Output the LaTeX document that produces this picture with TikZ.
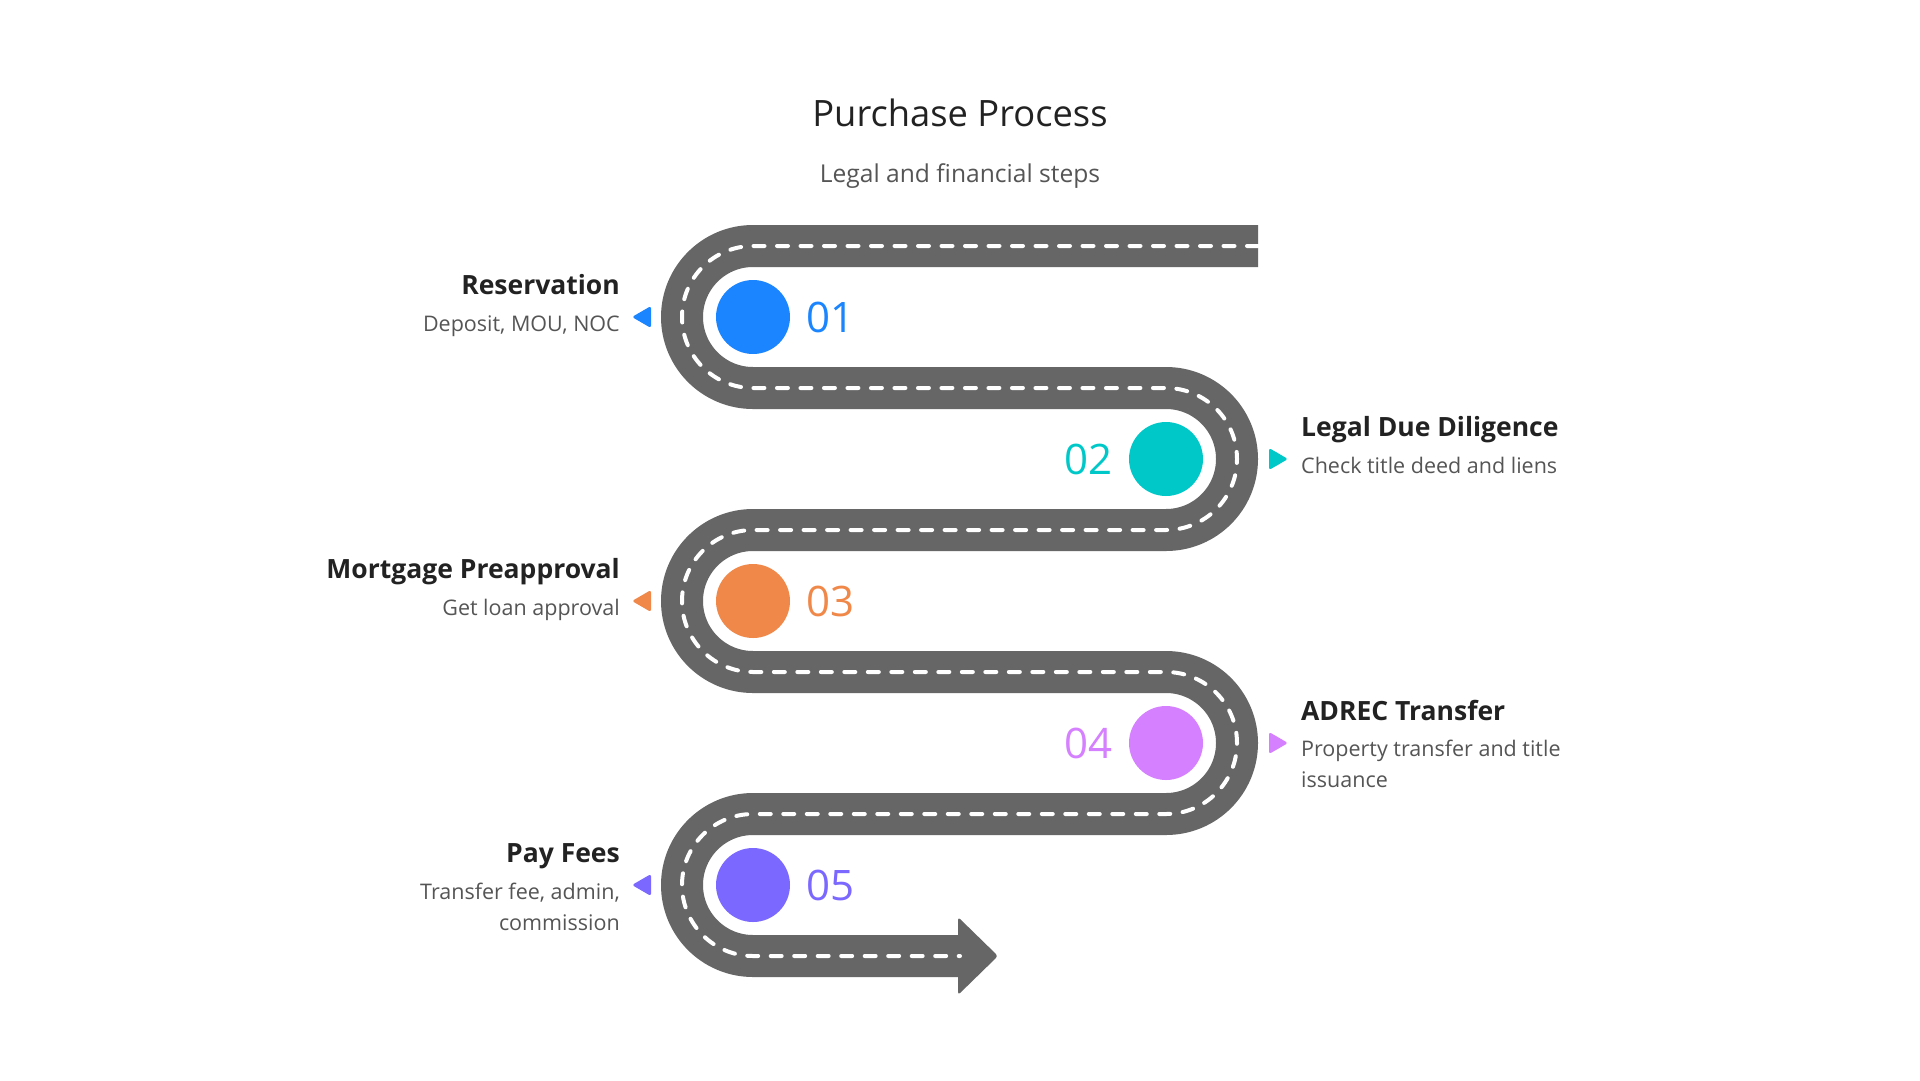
\documentclass[tikz,border=0pt]{standalone}
\usepackage{fontspec}
\setmainfont{Open Sans}
\definecolor{roadgray}{HTML}{666666}
\definecolor{cA}{HTML}{1A85FF}
\definecolor{cB}{HTML}{00C8C8}
\definecolor{cC}{HTML}{F0884A}
\definecolor{cD}{HTML}{D580FF}
\definecolor{cE}{HTML}{7B68FF}
\definecolor{darktext}{HTML}{222222}
\definecolor{greytext}{HTML}{555555}
\begin{document}
\begin{tikzpicture}[x=1pt,y=1pt,
  road/.style={draw=roadgray,line width=42pt,line cap=butt,line join=round},
  lane/.style={draw=white,line width=4pt,line cap=round,dash pattern=on 11pt off 12.5pt},
  dot/.style={circle,minimum size=74pt,inner sep=0pt},
  numlbl/.style={font=\fontsize{42}{50}\selectfont,inner sep=0pt},
  steptitle/.style={font=\fontsize{26.5}{30}\selectfont\bfseries,text=darktext,inner sep=0pt},
  stepdesc/.style={font=\fontsize{21.5}{31}\selectfont,text=greytext,inner sep=0pt},
  marker/.style={rounded corners=2.5pt}]
\useasboundingbox[fill=white] (0,0) rectangle (1920,-1080);
% title
\node[font=\fontsize{36.3}{42}\selectfont,text=darktext,anchor=base,inner sep=0pt] (title) at (960,-126) {Purchase Process};
\node[font=\fontsize{24.6}{28}\selectfont,text=greytext,anchor=base,inner sep=0pt] (subtitle) at (960,-182) {Legal and financial steps};
% road
\path[road] (1258,-246) -- (753,-246) arc[start angle=90,end angle=270,radius=71]
  -- (1166,-388) arc[start angle=90,end angle=-90,radius=71]
  -- (753,-530) arc[start angle=90,end angle=270,radius=71]
  -- (1166,-672) arc[start angle=90,end angle=-90,radius=71]
  -- (753,-814) arc[start angle=90,end angle=270,radius=71]
  -- (959,-956);
\fill[roadgray,rounded corners=3pt] (958,-917) -- (998,-956) -- (958,-995) -- cycle;
\path[lane] (1258,-246) -- (753,-246) arc[start angle=90,end angle=270,radius=71]
  -- (1166,-388) arc[start angle=90,end angle=-90,radius=71]
  -- (753,-530) arc[start angle=90,end angle=270,radius=71]
  -- (1166,-672) arc[start angle=90,end angle=-90,radius=71]
  -- (753,-814) arc[start angle=90,end angle=270,radius=71]
  -- (960,-956);
% circles
\node[dot,fill=cA] (d1) at (753,-317) {};
\node[dot,fill=cB] (d2) at (1166,-459) {};
\node[dot,fill=cC] (d3) at (753,-601) {};
\node[dot,fill=cD] (d4) at (1166,-743) {};
\node[dot,fill=cE] (d5) at (753,-885) {};
% numbers
\node[numlbl,text=cA,anchor=west] (n1) at (806,-317) {01};
\node[numlbl,text=cB,anchor=east] (n2) at (1113,-459) {02};
\node[numlbl,text=cC,anchor=west] (n3) at (806,-601) {03};
\node[numlbl,text=cD,anchor=east] (n4) at (1113,-743) {04};
\node[numlbl,text=cE,anchor=west] (n5) at (806,-885) {05};
% markers
\fill[marker,cA] (632,-317) -- (651,-306) -- (651,-328) -- cycle;
\fill[marker,cB] (1288,-459) -- (1269,-448) -- (1269,-470) -- cycle;
\fill[marker,cC] (632,-601) -- (651,-590) -- (651,-612) -- cycle;
\fill[marker,cD] (1288,-743) -- (1269,-732) -- (1269,-754) -- cycle;
\fill[marker,cE] (632,-885) -- (651,-874) -- (651,-896) -- cycle;
% texts
\node[steptitle,anchor=base east] (t1) at (620,-294) {Reservation};
\node[stepdesc,anchor=base east] (s1) at (620,-331) {Deposit, MOU, NOC};
\node[steptitle,anchor=base west] (t2) at (1301,-436) {Legal Due Diligence};
\node[stepdesc,anchor=base west] (s2) at (1301,-473) {Check title deed and liens};
\node[steptitle,anchor=base east] (t3) at (620,-578) {Mortgage Preapproval};
\node[stepdesc,anchor=base east] (s3) at (620,-615) {Get loan approval};
\node[steptitle,anchor=base west] (t4) at (1301,-720) {ADREC Transfer};
\node[stepdesc,anchor=base west] (s4) at (1301,-756) {Property transfer and title};
\node[stepdesc,anchor=base west] (s4b) at (1301,-787) {issuance};
\node[steptitle,anchor=base east] (t5) at (620,-862) {Pay Fees};
\node[stepdesc,anchor=base east] (s5) at (620,-899) {Transfer fee, admin,};
\node[stepdesc,anchor=base east] (s5b) at (620,-930) {commission};
\end{tikzpicture}
\end{document}
